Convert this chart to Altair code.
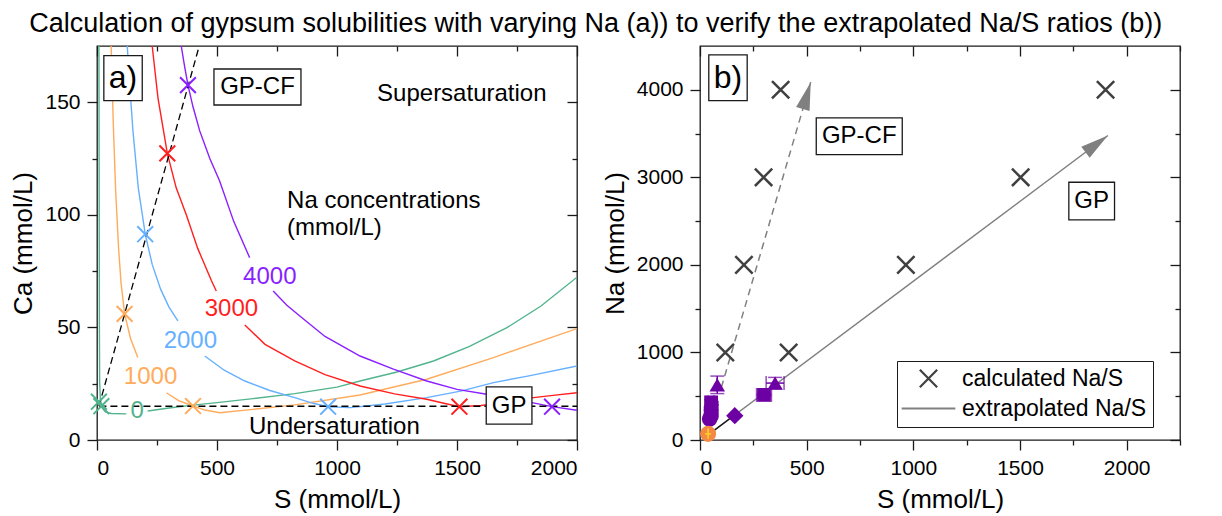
import math
import altair as alt
import pandas as pd

FONT = "Liberation Sans"
FRAME = "#1a1a1a"
TITLE = "Calculation of gypsum solubilities with varying Na (a)) to verify the extrapolated Na/S ratios (b))"

XPATH = "M-1,-1L1,1M-1,1L1,-1"

# ---------------- panel a : solubility curves (S, Ca) ----------------
NA_LEVELS = ["0", "1000", "2000", "3000", "4000"]
NA_COLORS = ["#52b48d", "#ffab5c", "#66b0ff", "#ff1f1f", "#8a1fff"]

na0_s_1 = [8, 9, 10, 11, 14, 20, 35, 60, 122]
na0_ca_1 = [175, 110, 50, 26, 18, 14.5, 12.5, 11.8, 11.6]
na0_s_2 = [211, 300, 400, 500, 650, 824, 1000, 1096, 1250, 1402, 1550, 1708, 1850, 2000]
na0_ca_2 = [12.9, 14.2, 15.5, 16.6, 18.4, 20.6, 23.5, 26.2, 30.2, 35.1, 41.5, 49.9, 59.5, 72.3]

na1000_s_1 = [59, 68, 78, 90, 100, 115, 140, 170]
na1000_ca_1 = [175, 140, 110, 85, 70, 56, 45, 36.6]
na1000_s_2 = [289, 340, 400, 450, 511, 650, 824, 1096, 1374, 1652, 2000]
na1000_ca_2 = [21, 17.5, 15.1, 13.3, 12.1, 13.6, 15.6, 20, 27, 36.6, 49.5]

na2000_s_1 = [126, 138, 150, 172, 201, 230, 265, 300, 337]
na2000_ca_1 = [175, 155, 137, 112, 91.4, 78, 67, 59, 52.9]
na2000_s_2 = [449, 530, 616, 720, 824, 900, 963, 1055, 1200, 1374, 1520, 1652, 1800, 2000]
na2000_ca_2 = [37.3, 31, 26.2, 22, 18.8, 16.3, 14.8, 14.4, 16, 18.8, 21.8, 25.5, 28.5, 32.9]

na3000_s_1 = [230, 254, 293, 330, 372, 420, 477, 497]
na3000_ca_1 = [175, 152, 127.3, 112, 100, 85, 70.7, 66.2]
na3000_s_2 = [616, 700, 824, 950, 1096, 1240, 1374, 1450, 1510, 1600, 1700, 1819, 1900, 2000]
na3000_ca_2 = [51.1, 42.5, 35.1, 29, 24, 20.5, 18.1, 16.2, 14.8, 15.3, 16.7, 18.8, 19.8, 21]

na4000_s_1 = [351, 365, 379, 400, 428, 470, 511, 570, 636]
na4000_ca_1 = [175, 166, 157.6, 148, 137.3, 125, 115, 97, 81]
na4000_s_2 = [734, 790, 845, 950, 1096, 1235, 1374, 1500, 1624, 1750, 1812, 1896, 2000]
na4000_ca_2 = [66.2, 60, 55.1, 46, 37.3, 31.5, 26.2, 22.5, 20.3, 17.6, 16.6, 14.8, 13.2]

# calculated points (crosses) in panel a
mark_s = [8, 18, 115, 400, 201, 963, 293, 1510, 379, 1896]
mark_ca = [17, 15, 56, 15.1, 91.4, 14.8, 127.3, 14.8, 157.6, 14.8]
mark_na = ["0", "0", "1000", "1000", "2000", "2000", "3000", "3000", "4000", "4000"]

# dashed guide lines in panel a
gpcf_a_s = [8, 426]
gpcf_a_ca = [15, 175]
gp_a_s = [10, 2000]
gp_a_ca = [15, 15]

# curve labels
lab_s = [720, 560, 389, 223, 167]
lab_ca = [69.2, 55.1, 41, 24.8, 9.9]
lab_txt = ["4000", "3000", "2000", "1000", "0"]

# ---------------- panel b : Na vs S ----------------
calc_s = [118.6, 415.6, 206, 965, 298, 1503, 378, 1901]
calc_na = [1000, 1000, 2000, 2000, 3000, 3000, 4000, 4000]

gp_b_s = [20, 1912]
gp_b_na = [25, 3478]
gp_short_s = [45, 170]
gp_short_na = [71, 299]
gpcf_b_s = [100, 519]
gpcf_b_na = [600, 4087]

pt_shape = ["triangle-up", "triangle-up", "square", "square", "square", "square", "circle", "circle", "diamond"]
pt_s = [81, 352, 300, 52, 55, 50, 45, 52, 163]
pt_na = [630, 650, 515, 430, 370, 310, 240, 275, 278]
pt_s_err = [0, 42, 35, 14, 14, 12, 0, 0, 0]
pt_na_err = [100, 65, 20, 30, 30, 30, 0, 0, 0]

or_s = [38]
or_na = [70]
or_s_err = [14]
or_na_err = [60]

LEG_CALC = "calculated Na/S"
LEG_EXTR = "extrapolated Na/S"

PURPLE = "#6d00a3"
PT_SIZE = {"square": 190, "circle": 240, "diamond": 300, "triangle-up": 240}


def axis_main(orient, values, title, title_pad):
    return alt.Axis(orient=orient, values=values, tickSize=10, labels=True, domain=False, grid=False,
                    title=title, format="d", tickColor=FRAME, tickWidth=1.3,
                    labelFont=FONT, labelFontSize=21, labelColor="black", labelPadding=7,
                    titleFont=FONT, titleFontSize=26, titleFontWeight="normal", titleColor="black",
                    titlePadding=title_pad)


def axis_plain(orient, values, size, offset):
    return alt.Axis(orient=orient, values=values, tickSize=size, offset=offset, labels=False,
                    domain=False, grid=False, title=None, tickColor=FRAME, tickWidth=1.3)


def tick_layers(xs, ys, xdom, ydom, xmaj, xmin, ymaj, ymin):
    dummy = pd.DataFrame({"tx": [xdom[0]], "ty": [ydom[0]]})
    base = alt.Chart(dummy).mark_point(opacity=0)
    specs = [
        (xmin, "bottom", 5, 0, ymin, "left", 5, 0),
        (xmaj, "top", 10, -10, ymaj, "right", 10, -10),
        (xmin, "top", 5, -5, ymin, "right", 5, -5),
    ]
    out = []
    for xv, xo, xsz, xoff, yv, yo, ysz, yoff in specs:
        out.append(base.encode(
            x=alt.X("tx:Q", scale=xs, axis=axis_plain(xo, xv, xsz, xoff)),
            y=alt.Y("ty:Q", scale=ys, axis=axis_plain(yo, yv, ysz, yoff)),
        ))
    return out


def box_layer(xs, ys, xf, yf, s, v, w, h, text, fsize):
    df = pd.DataFrame({xf: [s], yf: [v], "t": [text]})
    r = h / w
    path = f"M-1,-{r:.4f}L1,-{r:.4f}L1,{r:.4f}L-1,{r:.4f}Z"
    bx = alt.Chart(df).mark_point(shape=path, size=w * w, filled=True, fill="white", stroke=FRAME,
                                  strokeWidth=1.3, opacity=1).encode(
        x=alt.X(f"{xf}:Q", scale=xs, axis=None), y=alt.Y(f"{yf}:Q", scale=ys, axis=None))
    tx = alt.Chart(df).mark_text(font=FONT, fontSize=fsize, color="black", align="center",
                                 baseline="middle").encode(
        x=alt.X(f"{xf}:Q", scale=xs, axis=None), y=alt.Y(f"{yf}:Q", scale=ys, axis=None), text="t:N")
    return [bx, tx]


def text_layer(xs, ys, xf, yf, s, v, text, align, fsize=24):
    df = pd.DataFrame({xf: [s], yf: [v], "t": [text]})
    return alt.Chart(df).mark_text(font=FONT, fontSize=fsize, color="black", align=align,
                                   baseline="alphabetic").encode(
        x=alt.X(f"{xf}:Q", scale=xs, axis=None), y=alt.Y(f"{yf}:Q", scale=ys, axis=None), text="t:N")


# ---------- build panel a ----------
rows = []
curves = [
    ("0", [(na0_s_1, na0_ca_1), (na0_s_2, na0_ca_2)]),
    ("1000", [(na1000_s_1, na1000_ca_1), (na1000_s_2, na1000_ca_2)]),
    ("2000", [(na2000_s_1, na2000_ca_1), (na2000_s_2, na2000_ca_2)]),
    ("3000", [(na3000_s_1, na3000_ca_1), (na3000_s_2, na3000_ca_2)]),
    ("4000", [(na4000_s_1, na4000_ca_1), (na4000_s_2, na4000_ca_2)]),
]
for na, segs in curves:
    for k, (ss, cc) in enumerate(segs):
        for i, (s, c) in enumerate(zip(ss, cc)):
            rows.append({"S": s, "Ca": c, "Na": na, "seg": f"{na}-{k}", "i": i})
df_curves = pd.DataFrame(rows)

df_dash_a = pd.DataFrame({
    "S": gpcf_a_s + gp_a_s, "Ca": gpcf_a_ca + gp_a_ca,
    "g": ["cf"] * len(gpcf_a_s) + ["gp"] * len(gp_a_s),
})
df_marks_a = pd.DataFrame({"S": mark_s, "Ca": mark_ca, "Na": mark_na})
df_labs = pd.DataFrame({"S": lab_s, "Ca": lab_ca, "Na": lab_txt, "t": lab_txt})

xa = alt.Scale(domain=[0, 2000], nice=False, zero=False)
ya = alt.Scale(domain=[0, 175], nice=False, zero=False)
ca = alt.Scale(domain=NA_LEVELS, range=NA_COLORS)

la = tick_layers(xa, ya, [0, 2000], [0, 175], [0, 500, 1000, 1500, 2000], [250, 750, 1250, 1750],
                 [0, 50, 100, 150], [25, 75, 125])

curve_layer = alt.Chart(df_curves).mark_line(strokeWidth=1.4, clip=True).encode(
    x=alt.X("S:Q", scale=xa, axis=axis_main("bottom", [0, 500, 1000, 1500, 2000], "S (mmol/L)", 8)),
    y=alt.Y("Ca:Q", scale=ya, axis=axis_main("left", [0, 50, 100, 150], "Ca (mmol/L)", 8)),
    color=alt.Color("Na:N", scale=ca, legend=None),
    detail="seg:N",
    order="i:Q",
)
dash_a = alt.Chart(df_dash_a).mark_line(strokeDash=[7, 4], color="black", strokeWidth=1.3).encode(
    x=alt.X("S:Q", scale=xa, axis=None), y=alt.Y("Ca:Q", scale=ya, axis=None), detail="g:N")
marks_a = alt.Chart(df_marks_a).mark_point(shape=XPATH, filled=False, size=250, strokeWidth=2,
                                           opacity=1).encode(
    x=alt.X("S:Q", scale=xa, axis=None), y=alt.Y("Ca:Q", scale=ya, axis=None),
    color=alt.Color("Na:N", scale=ca, legend=None))
labs_a = alt.Chart(df_labs).mark_text(font=FONT, fontSize=24, align="center", baseline="alphabetic").encode(
    x=alt.X("S:Q", scale=xa, axis=None), y=alt.Y("Ca:Q", scale=ya, axis=None),
    color=alt.Color("Na:N", scale=ca, legend=None), text="t:N")

layers_a = la + [curve_layer, dash_a, marks_a, labs_a]
layers_a += box_layer(xa, ya, "S", "Ca", 108.5, 160.7, 38.4, 45, "a)", 32)
layers_a += box_layer(xa, ya, "S", "Ca", 668.6, 156.8, 87, 36, "GP-CF", 24)
layers_a += box_layer(xa, ya, "S", "Ca", 1717, 15.3, 45.7, 37.3, "GP", 24)
layers_a.append(text_layer(xa, ya, "S", "Ca", 1520, 150.4, "Supersaturation", "center"))
layers_a.append(text_layer(xa, ya, "S", "Ca", 792, 103.2, "Na concentrations", "left"))
layers_a.append(text_layer(xa, ya, "S", "Ca", 792, 91.1, "(mmol/L)", "left"))
layers_a.append(text_layer(xa, ya, "S", "Ca", 989, 2.5, "Undersaturation", "center"))

panel_a = alt.layer(*layers_a).resolve_axis(x="independent", y="independent").properties(width=480, height=394)

# ---------- build panel b ----------
xb = alt.Scale(domain=[0, 2250], nice=False, zero=False)
yb = alt.Scale(domain=[0, 4500], nice=False, zero=False)

lb = tick_layers(xb, yb, [0, 2250], [0, 4500], [0, 500, 1000, 1500, 2000], [250, 750, 1250, 1750, 2250],
                 [0, 1000, 2000, 3000, 4000], [500, 1500, 2500, 3500])

df_gp = pd.DataFrame({"S": gp_b_s, "Na": gp_b_na})
df_gps = pd.DataFrame({"S": gp_short_s, "Na": gp_short_na})
df_gpcf = pd.DataFrame({"S": gpcf_b_s, "Na": gpcf_b_na})

gp_line = alt.Chart(df_gp).mark_line(color="#808080", strokeWidth=1.5).encode(
    x=alt.X("S:Q", scale=xb, axis=axis_main("bottom", [0, 500, 1000, 1500, 2000], "S (mmol/L)", 8)),
    y=alt.Y("Na:Q", scale=yb, axis=axis_main("left", [0, 1000, 2000, 3000, 4000], "Na (mmol/L)", 8)))
gp_short = alt.Chart(df_gps).mark_line(color="#111111", strokeWidth=1.3).encode(
    x=alt.X("S:Q", scale=xb, axis=None), y=alt.Y("Na:Q", scale=yb, axis=None))
gpcf_line = alt.Chart(df_gpcf).mark_line(color="#808080", strokeWidth=1.5, strokeDash=[7, 5]).encode(
    x=alt.X("S:Q", scale=xb, axis=None), y=alt.Y("Na:Q", scale=yb, axis=None))

ARROW = "M0,0L-0.5,2L0.5,2Z"


def arrow_head(s0, n0, s1, n1):
    dx = (s1 - s0) * 480 / 2250
    dy = (n1 - n0) * 394 / 4500
    ang = math.degrees(math.atan2(dx, dy)) % 360
    df = pd.DataFrame({"S": [s1], "Na": [n1]})
    return alt.Chart(df).mark_point(shape=ARROW, size=784, filled=True, color="#808080", opacity=1,
                                    angle=ang).encode(
        x=alt.X("S:Q", scale=xb, axis=None), y=alt.Y("Na:Q", scale=yb, axis=None))


arr_gp = arrow_head(gp_b_s[0], gp_b_na[0], gp_b_s[-1], gp_b_na[-1])
arr_cf = arrow_head(gpcf_b_s[0], gpcf_b_na[0], gpcf_b_s[-1], gpcf_b_na[-1])

df_calc = pd.DataFrame({"S": calc_s, "Na": calc_na, "series": [LEG_CALC] * len(calc_s)})
leg = alt.Legend(title=None, orient="none", legendX=197, legendY=315, labelFont=FONT, labelFontSize=23,
                 labelColor="black", labelLimit=400, fillColor="white", strokeColor=FRAME, padding=6,
                 symbolSize=300, symbolStrokeWidth=2.2, labelOffset=22, symbolOffset=14, rowPadding=5)
calc_layer = alt.Chart(df_calc).mark_point(filled=False, size=300, strokeWidth=2.5, opacity=1).encode(
    x=alt.X("S:Q", scale=xb, axis=None), y=alt.Y("Na:Q", scale=yb, axis=None),
    color=alt.Color("series:N", scale=alt.Scale(domain=[LEG_CALC, LEG_EXTR], range=["#404040", "#808080"]),
                    legend=leg),
    shape=alt.Shape("series:N", scale=alt.Scale(domain=[LEG_CALC, LEG_EXTR], range=[XPATH, "M-3.1,0L3.1,0"]),
                    legend=leg),
)

df_pts = pd.DataFrame({"S": pt_s, "Na": pt_na, "shape": pt_shape,
                       "s_lo": [a - b for a, b in zip(pt_s, pt_s_err)],
                       "s_hi": [a + b for a, b in zip(pt_s, pt_s_err)],
                       "n_lo": [a - b for a, b in zip(pt_na, pt_na_err)],
                       "n_hi": [a + b for a, b in zip(pt_na, pt_na_err)]})
df_or = pd.DataFrame({"S": or_s, "Na": or_na,
                      "s_lo": [or_s[0] - or_s_err[0]], "s_hi": [or_s[0] + or_s_err[0]],
                      "n_lo": [or_na[0] - or_na_err[0]], "n_hi": [or_na[0] + or_na_err[0]]})


def err_layers(df, color, cap):
    xsc = dict(scale=xb, axis=None)
    ysc = dict(scale=yb, axis=None)
    v = alt.Chart(df).mark_rule(color=color, strokeWidth=1.5).encode(
        x=alt.X("S:Q", **xsc), y=alt.Y("n_lo:Q", **ysc), y2="n_hi:Q")
    h = alt.Chart(df).mark_rule(color=color, strokeWidth=1.5).encode(
        y=alt.Y("Na:Q", **ysc), x=alt.X("s_lo:Q", **xsc), x2="s_hi:Q")
    out = [v, h]
    if cap:
        for f in ["n_lo", "n_hi"]:
            out.append(alt.Chart(df).mark_tick(orient="horizontal", color=color, size=14, thickness=1.5).encode(
                x=alt.X("S:Q", **xsc), y=alt.Y(f"{f}:Q", **ysc)))
        for f in ["s_lo", "s_hi"]:
            out.append(alt.Chart(df).mark_tick(orient="vertical", color=color, size=14, thickness=1.5).encode(
                x=alt.X(f"{f}:Q", **xsc), y=alt.Y("Na:Q", **ysc)))
    return out


pt_layers = []
for shp in ["square", "circle", "diamond", "triangle-up"]:
    sub = df_pts[df_pts["shape"] == shp]
    pt_layers.append(alt.Chart(sub).mark_point(shape=shp, filled=True, size=PT_SIZE[shp], color=PURPLE,
                                               opacity=1).encode(
        x=alt.X("S:Q", scale=xb, axis=None), y=alt.Y("Na:Q", scale=yb, axis=None)))

or_pt = alt.Chart(df_or).mark_point(shape="circle", filled=True, size=260, color="#f28a45", opacity=1).encode(
    x=alt.X("S:Q", scale=xb, axis=None), y=alt.Y("Na:Q", scale=yb, axis=None))

layers_b = lb + [gp_line, gp_short, gpcf_line, arr_gp, arr_cf]
layers_b += err_layers(df_pts, PURPLE, True)
layers_b += pt_layers
layers_b += [or_pt] + err_layers(df_or, "#ffd21f", False)
layers_b.append(calc_layer)
layers_b += box_layer(xb, yb, "S", "Na", 131.2, 4138, 38.4, 45.7, "b)", 32)
layers_b += box_layer(xb, yb, "S", "Na", 746.5, 3470, 86, 36.7, "GP-CF", 24)
layers_b += box_layer(xb, yb, "S", "Na", 1836, 2729, 45.7, 37.6, "GP", 24)

panel_b = alt.layer(*layers_b).resolve_axis(x="independent", y="independent").resolve_scale(
    color="independent", shape="independent").properties(width=480, height=394)

chart = alt.hconcat(panel_a, panel_b, spacing=20).resolve_scale(
    color="independent", shape="independent").properties(
    title=alt.TitleParams(TITLE, font=FONT, fontSize=27, fontWeight="normal", color="black",
                          anchor="middle", offset=5),
    padding={"left": 2, "top": 1, "right": 26, "bottom": 2},
).configure_view(stroke=FRAME, strokeWidth=1.3)

chart.save("out.html", embed_options={"renderer": "svg", "actions": False})
